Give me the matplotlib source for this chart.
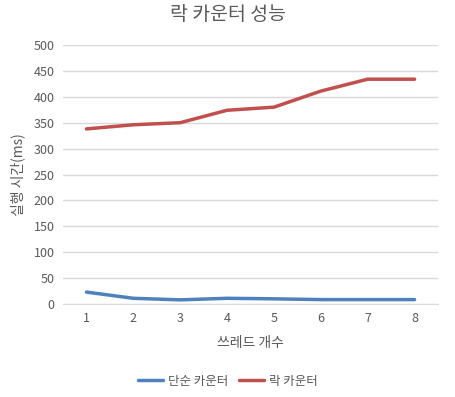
import matplotlib.pyplot as plt

plt.rcParams['font.family'] = ['Noto Sans CJK KR', 'DejaVu Sans']

threads = [1, 2, 3, 4, 5, 6, 7, 8]
simple_counter = [23, 11, 8, 11, 10, 8.5, 8.5, 8.5]
lock_counter = [338, 346, 350, 374, 380, 411, 434, 434]

fig = plt.figure(figsize=(4.56, 3.97), dpi=100)
ax = fig.add_axes([63 / 456, 1 - 304 / 397, 375 / 456, 259 / 397])

ax.plot(threads, simple_counter, color='#4F81BD', lw=2.5, label='단순 카운터', solid_capstyle='round')
ax.plot(threads, lock_counter, color='#C0504D', lw=2.5, label='락 카운터', solid_capstyle='round')

ax.set_xlim(0.5, 8.5)
ax.set_ylim(0, 500)
ax.set_yticks(range(0, 501, 50))
ax.set_xticks(threads)
ax.grid(axis='y', color='#D9D9D9', lw=1)
ax.set_axisbelow(True)
for s in ['top', 'right', 'left']:
    ax.spines[s].set_visible(False)
ax.spines['bottom'].set_color('#D9D9D9')
ax.tick_params(length=0, labelsize=9, colors='#595959', pad=6)

ax.set_xlabel('쓰레드 개수', fontsize=10, color='#595959', labelpad=8)
ax.set_ylabel('실행 시간(ms)', fontsize=10, color='#595959', labelpad=6)
fig.suptitle('락 카운터 성능', fontsize=14, color='#595959', y=0.99)

ax.legend(loc='upper center', bbox_to_anchor=(0.44, -0.23), ncol=2, frameon=False,
          fontsize=9, labelcolor='#595959', handlelength=2, handletextpad=0.4,
          columnspacing=0.8)

fig.savefig('out.png', dpi=100)
